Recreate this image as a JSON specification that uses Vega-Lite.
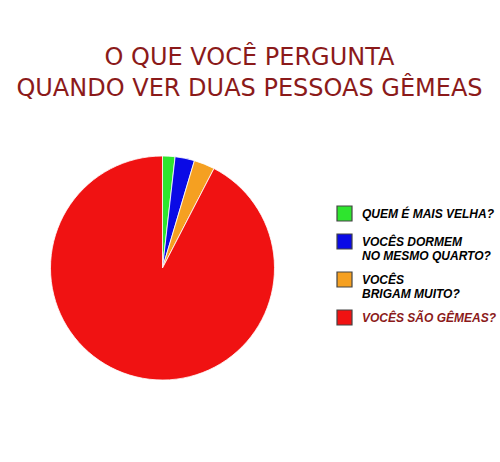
{
  "$schema": "https://vega.github.io/schema/vega-lite/v6.json",
  "width": 325,
  "height": 300,
  "autosize": "none",
  "padding": {"left": 0, "top": 118, "right": 175, "bottom": 44},
  "background": "white",
  "config": {"view": {"stroke": null}},
  "title": {
    "text": ["O QUE VOCÊ PERGUNTA", "QUANDO VER DUAS PESSOAS GÊMEAS"],
    "color": "#8b1a1a",
    "font": "DejaVu Sans",
    "fontSize": 24,
    "fontWeight": "normal",
    "lineHeight": 31,
    "anchor": "middle",
    "dx": 87,
    "offset": 17
  },
  "data": {
    "values": [
      {"pergunta": "QUEM É MAIS VELHA?", "valor": 1.8, "ordem": 1},
      {"pergunta": "VOCÊS DORMEM NO MESMO QUARTO?", "valor": 2.8, "ordem": 2},
      {"pergunta": "VOCÊS BRIGAM MUITO?", "valor": 3.0, "ordem": 3},
      {"pergunta": "VOCÊS SÃO GÊMEAS?", "valor": 92.4, "ordem": 4}
    ]
  },
  "mark": {"type": "arc", "outerRadius": 112, "stroke": "white", "strokeWidth": 0.8},
  "encoding": {
    "theta": {"field": "valor", "type": "quantitative", "stack": true},
    "order": {"field": "ordem", "type": "quantitative"},
    "color": {
      "field": "pergunta",
      "type": "nominal",
      "scale": {
        "domain": ["QUEM É MAIS VELHA?", "VOCÊS DORMEM NO MESMO QUARTO?", "VOCÊS BRIGAM MUITO?", "VOCÊS SÃO GÊMEAS?"],
        "range": ["#2ee52e", "#0a0ae6", "#f5a021", "#f01212"]
      },
      "legend": {
        "title": null,
        "orient": "none",
        "legendX": 336,
        "legendY": 87,
        "symbolType": "square",
        "symbolSize": 225,
        "symbolStrokeColor": "#444444",
        "symbolStrokeWidth": 1.2,
        "symbolOpacity": 1,
        "labelFont": "Liberation Sans",
        "labelFontStyle": "italic",
        "labelFontWeight": "bold",
        "labelFontSize": 12,
        "labelLineHeight": 17,
        "labelColor": "black",
        "labelLimit": 200,
        "labelOffset": 9,
        "rowPadding": 7,
        "labelExpr": "datum.label == 'VOCÊS DORMEM NO MESMO QUARTO?' ? ['\u2002\u2002\u2002VOCÊS DORMEM', 'NO MESMO QUARTO?'] : datum.label == 'VOCÊS BRIGAM MUITO?' ? ['\u2002\u2002\u2002\u2002\u2002\u2002VOCÊS', 'BRIGAM MUITO?'] : datum.label",
        "encode": {
          "labels": {
            "update": {
              "fill": {"signal": "datum.label == 'VOCÊS SÃO GÊMEAS?' ? '#8b1a1a' : 'black'"}
            }
          }
        }
      }
    }
  }
}
